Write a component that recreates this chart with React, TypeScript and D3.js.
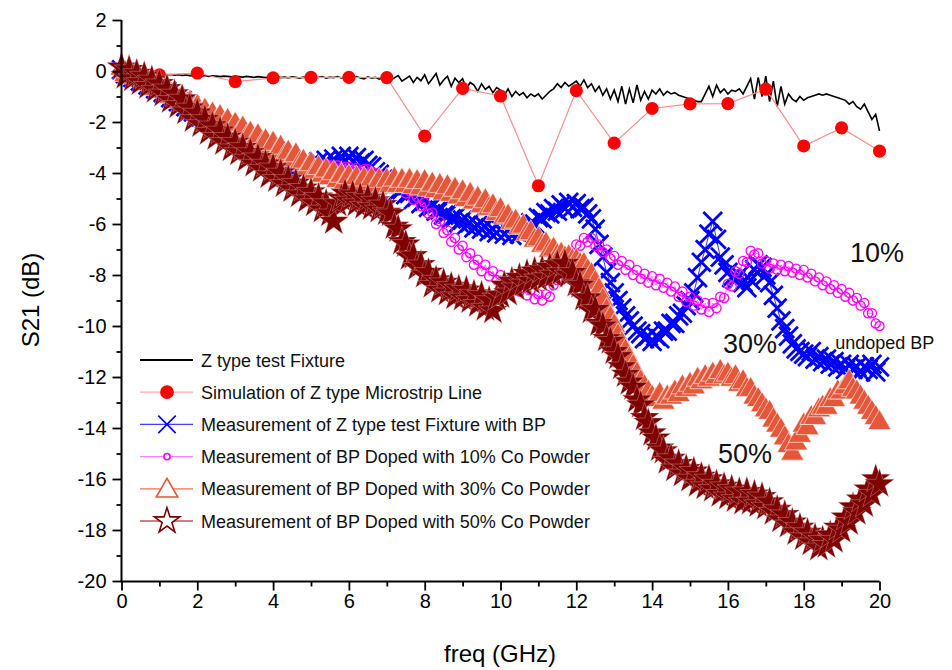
import React, { useEffect, useRef } from 'react';
import * as d3 from 'd3';

// frequency grid of the measured traces, GHz
const freq = d3.range(0, 201).map((i) => i / 10);
const simFreq = [1, 2, 3, 4, 5, 6, 7, 8, 9, 10, 11, 12, 13, 14, 15, 16, 17, 18, 19, 20];

// S21 (dB)
const fixture = [
  0.05, 0.02, -0.02, -0.05, -0.06, -0.08, -0.1, -0.1, -0.12, -0.12,
  -0.14, -0.13, -0.15, -0.14, -0.16, -0.15, -0.17, -0.16, -0.18, -0.17,
  -0.18, -0.2, -0.18, -0.21, -0.19, -0.2, -0.22, -0.2, -0.21, -0.23,
  -0.2, -0.22, -0.24, -0.21, -0.23, -0.25, -0.22, -0.24, -0.26, -0.23,
  -0.25, -0.22, -0.26, -0.24, -0.27, -0.23, -0.25, -0.28, -0.24, -0.26,
  -0.23, -0.27, -0.25, -0.22, -0.28, -0.24, -0.26, -0.22, -0.27, -0.25,
  -0.24, -0.29, -0.22, -0.27, -0.31, -0.23, -0.28, -0.25, -0.32, -0.26,
  -0.22, -0.35, -0.27, -0.18, -0.4, -0.3, -0.2, -0.45, -0.25, -0.38,
  -0.15, -0.5, -0.3, -0.1, -0.55, -0.35, -0.2, -0.6, -0.28, -0.45,
  -0.3, -0.7, -0.45, -0.55, -0.8, -0.5, -0.72, -0.6, -0.85, -0.65,
  -0.75, -0.95, -0.7, -1.0, -0.8, -0.95, -0.85, -1.05, -0.9, -1.0,
  -0.9, -1.1, -0.95, -0.8, -0.7, -0.5, -0.65, -0.45, -0.6, -0.5,
  -0.4, -0.6, -0.35, -0.65, -0.5, -0.8, -0.6, -0.95, -0.7, -1.1,
  -0.75, -1.2, -0.6, -1.3, -0.7, -1.25, -0.55, -1.15, -0.8, -1.1,
  -0.75, -0.9, -0.7, -0.95, -0.8, -0.9, -0.85, -0.95, -1.0, -1.05,
  -1.1, -1.15, -1.2, -1.2, -0.9, -0.6, -1.0, -0.55, -0.85, -0.7,
  -0.9, -0.75, -0.8, -0.7, -0.9, -0.6, -0.3, -1.1, -0.25, -1.0,
  -0.2, -1.2, -0.4, -1.4, -0.6, -1.3, -0.9, -1.1, -1.2, -1.0,
  -1.15, -1.05, -1.0, -0.95, -0.9, -0.95, -0.9, -0.95, -1.0, -1.05,
  -1.1, -1.15, -1.3, -1.2, -1.4, -1.5, -1.3, -1.6, -1.9, -1.7,
  -2.35,
];

const simulation = [
  -0.15, -0.08, -0.42, -0.27, -0.25, -0.25, -0.26, -2.55, -0.68, -0.98,
  -4.5, -0.77, -2.83, -1.47, -1.29, -1.28, -0.71, -2.94, -2.23, -3.14,
];

const undoped = [
  0.05, -0.1, -0.1, -0.25, -0.2, -0.4, -0.35, -0.55, -0.5, -0.7,
  -0.65, -0.85, -0.8, -1.05, -1.0, -1.2, -1.15, -1.4, -1.35, -1.6,
  -1.55, -1.8, -1.75, -2.0, -1.95, -2.2, -2.15, -2.4, -2.35, -2.6,
  -2.55, -2.8, -2.8, -3.0, -3.0, -3.2, -3.15, -3.35, -3.3, -3.5,
  -3.45, -3.6, -3.5, -3.7, -3.55, -3.75, -3.6, -3.8, -3.6, -3.8,
  -3.6, -3.8, -3.55, -3.75, -3.5, -3.7, -3.45, -3.6, -3.35, -3.55,
  -3.35, -3.55, -3.4, -3.6, -3.5, -3.7, -3.75, -3.95, -4.05, -4.25,
  -4.3, -4.5, -4.45, -4.7, -4.65, -4.85, -4.8, -5.05, -4.95, -5.2,
  -5.1, -5.35, -5.3, -5.5, -5.45, -5.65, -5.6, -5.8, -5.75, -5.95,
  -5.85, -6.05, -5.95, -6.15, -6.05, -6.2, -6.1, -6.3, -6.2, -6.35,
  -6.2, -6.4, -6.25, -6.45, -6.3, -6.4, -6.2, -6.2, -5.95, -6.0,
  -5.75, -5.8, -5.55, -5.6, -5.4, -5.5, -5.25, -5.4, -5.15, -5.35,
  -5.2, -5.4, -5.35, -5.6, -5.8, -6.2, -6.8, -7.3, -7.9, -8.3,
  -8.7, -9.0, -9.3, -9.6, -9.8, -10.0, -10.2, -10.3, -10.5, -10.4,
  -10.6, -10.4, -10.5, -10.2, -10.2, -9.9, -9.9, -9.6, -9.5, -9.2,
  -9.0, -8.7, -8.1, -7.5, -7.0, -6.4, -5.9, -6.6, -7.3, -7.6,
  -7.9, -8.1, -8.2, -8.0, -8.3, -8.5, -8.2, -7.8, -7.6, -7.7,
  -8.0, -8.3, -8.8, -9.3, -9.8, -10.1, -10.4, -10.7, -10.9, -11.0,
  -11.1, -11.2, -11.0, -11.3, -11.2, -11.4, -11.3, -11.5, -11.4, -11.6,
  -11.5, -11.7, -11.5, -11.7, -11.6, -11.8, -11.6, -11.7, -11.5, -11.8,
  -11.6,
];

const doped10 = [
  0.0, -0.1, -0.15, -0.2, -0.3, -0.35, -0.45, -0.5, -0.6, -0.7,
  -0.75, -0.85, -0.95, -1.05, -1.2, -1.3, -1.4, -1.5, -1.65, -1.75,
  -1.85, -1.95, -2.05, -2.15, -2.25, -2.35, -2.45, -2.5, -2.6, -2.7,
  -2.75, -2.85, -2.9, -3.0, -3.05, -3.1, -3.15, -3.2, -3.3, -3.3,
  -3.35, -3.4, -3.45, -3.45, -3.5, -3.5, -3.55, -3.55, -3.6, -3.6,
  -3.6, -3.65, -3.6, -3.7, -3.65, -3.7, -3.75, -3.7, -3.8, -3.75,
  -3.75, -3.85, -3.8, -3.9, -3.85, -3.85, -3.95, -4.0, -4.05, -4.15,
  -4.1, -4.4, -4.3, -4.6, -4.5, -4.8, -4.7, -5.05, -4.95, -5.3,
  -5.15, -5.6, -5.55, -6.0, -5.9, -6.35, -6.25, -6.7, -6.55, -7.0,
  -6.85, -7.3, -7.15, -7.6, -7.4, -7.85, -7.6, -8.05, -7.85, -8.2,
  -8.0, -8.35, -8.2, -8.5, -8.35, -8.65, -8.5, -8.8, -8.6, -8.95,
  -8.75, -9.0, -8.75, -8.85, -8.4, -8.2, -7.7, -7.6, -7.1, -7.15,
  -6.8, -6.85, -6.55, -6.7, -6.55, -6.85, -6.8, -7.1, -7.0, -7.35,
  -7.25, -7.6, -7.45, -7.8, -7.6, -8.0, -7.8, -8.15, -7.95, -8.3,
  -8.05, -8.4, -8.15, -8.5, -8.3, -8.65, -8.45, -8.85, -8.65, -9.05,
  -8.85, -9.2, -9.0, -9.35, -9.1, -9.45, -9.1, -9.3, -8.85, -8.9,
  -8.35, -8.45, -7.85, -7.95, -7.45, -7.5, -7.05, -7.2, -7.15, -7.55,
  -7.45, -7.75, -7.55, -7.8, -7.6, -7.85, -7.65, -7.9, -7.75, -8.0,
  -7.8, -8.1, -7.95, -8.25, -8.1, -8.4, -8.25, -8.55, -8.4, -8.7,
  -8.55, -8.85, -8.7, -9.0, -8.9, -9.2, -9.1, -9.5, -9.5, -9.9,
  -10.0,
];

const doped30 = [
  0.1, -0.15, 0.0, -0.25, -0.1, -0.35, -0.2, -0.5, -0.4, -0.7,
  -0.55, -0.8, -0.7, -1.0, -0.9, -1.2, -1.05, -1.35, -1.25, -1.6,
  -1.4, -1.7, -1.55, -1.9, -1.7, -2.0, -1.8, -2.15, -1.95, -2.35,
  -2.1, -2.45, -2.25, -2.6, -2.45, -2.75, -2.55, -2.9, -2.75, -3.1,
  -2.85, -3.2, -3.0, -3.35, -3.2, -3.5, -3.3, -3.65, -3.55, -3.85,
  -3.65, -3.95, -3.8, -4.1, -3.9, -4.2, -4.0, -4.3, -4.1, -4.35,
  -4.15, -4.4, -4.2, -4.45, -4.25, -4.5, -4.25, -4.5, -4.3, -4.55,
  -4.3, -4.5, -4.25, -4.5, -4.3, -4.5, -4.3, -4.55, -4.35, -4.6,
  -4.35, -4.65, -4.45, -4.7, -4.5, -4.8, -4.55, -4.85, -4.65, -4.95,
  -4.75, -5.05, -4.85, -5.15, -5.0, -5.3, -5.1, -5.4, -5.3, -5.6,
  -5.45, -5.75, -5.7, -5.95, -5.9, -6.15, -6.1, -6.4, -6.35, -6.65,
  -6.6, -6.85, -6.8, -7.05, -7.0, -7.25, -7.2, -7.35, -7.3, -7.45,
  -7.45, -7.6, -7.6, -7.85, -8.0, -8.3, -8.6, -9.0, -9.4, -9.7,
  -10.0, -10.4, -10.7, -11.0, -11.3, -11.6, -11.9, -12.2, -12.4, -12.6,
  -12.8, -12.9, -12.7, -13.0, -12.8, -12.8, -12.6, -12.7, -12.4, -12.5,
  -12.3, -12.4, -12.1, -12.2, -12.0, -12.1, -11.9, -12.0, -11.8, -12.0,
  -11.9, -12.1, -12.0, -12.3, -12.2, -12.5, -12.5, -12.8, -12.9, -13.1,
  -13.3, -13.4, -13.7, -13.9, -14.1, -14.4, -14.7, -15.0, -14.6, -14.3,
  -13.9, -14.0, -13.6, -13.6, -13.3, -13.2, -13.2, -12.9, -12.9, -12.6,
  -12.6, -12.4, -12.2, -12.5, -12.6, -12.8, -13.0, -13.2, -13.4, -13.6,
  -13.8,
];

const doped50 = [
  0.15, -0.2, 0.05, -0.3, -0.1, -0.45, -0.2, -0.6, -0.35, -0.75,
  -0.5, -0.9, -0.7, -1.15, -0.9, -1.35, -1.1, -1.6, -1.45, -1.9,
  -1.65, -2.1, -1.9, -2.4, -2.15, -2.6, -2.35, -2.8, -2.6, -3.05,
  -2.8, -3.2, -3.0, -3.45, -3.2, -3.65, -3.4, -3.85, -3.65, -4.1,
  -3.8, -4.25, -4.0, -4.45, -4.25, -4.65, -4.4, -4.85, -4.6, -5.05,
  -4.75, -5.2, -4.95, -5.45, -5.2, -5.6, -5.9, -5.2, -5.0, -4.8,
  -5.1, -4.85, -5.2, -4.95, -5.3, -5.0, -5.35, -5.1, -5.45, -5.25,
  -5.55, -5.6, -6.1, -6.2, -6.7, -6.8, -7.3, -7.25, -7.7, -7.6,
  -8.0, -7.9, -8.4, -8.2, -8.6, -8.3, -8.7, -8.45, -8.85, -8.55,
  -8.9, -8.6, -9.0, -8.75, -9.15, -8.8, -9.3, -9.0, -9.4, -8.9,
  -8.8, -8.4, -8.7, -8.25, -8.5, -8.1, -8.35, -7.95, -8.25, -7.85,
  -8.15, -7.8, -8.1, -7.7, -8.0, -7.6, -7.9, -7.55, -8.0, -7.9,
  -8.35, -8.4, -8.9, -8.9, -9.4, -9.35, -9.9, -10.0, -10.5, -10.6,
  -11.0, -11.2, -11.6, -11.9, -12.2, -12.4, -12.9, -13.1, -13.6, -13.8,
  -14.2, -14.4, -14.8, -14.9, -15.3, -15.2, -15.6, -15.4, -15.8, -15.6,
  -16.0, -15.7, -16.2, -15.9, -16.3, -16.0, -16.4, -16.2, -16.6, -16.3,
  -16.7, -16.4, -16.8, -16.5, -16.9, -16.5, -16.9, -16.6, -17.0, -16.7,
  -17.1, -16.9, -17.3, -17.2, -17.6, -17.4, -17.8, -17.7, -18.1, -17.9,
  -18.3, -18.1, -18.5, -18.3, -18.7, -18.4, -18.6, -18.2, -18.4, -17.9,
  -18.0, -17.5, -17.7, -17.1, -17.3, -16.8, -17.0, -16.4, -16.6, -16.0,
  -16.2,
];

const legendLabels = [
  'Z type test Fixture',
  'Simulation of Z type Microstrip Line',
  'Measurement of Z type test Fixture with BP',
  'Measurement of BP Doped with 10% Co Powder',
  'Measurement of BP Doped with 30% Co Powder',
  'Measurement of BP Doped with 50% Co Powder',
];

const notes = [
  { text: '10%', x: 19.22, y: -7.5, size: 27 },
  { text: '30%', x: 15.87, y: -11.05, size: 27 },
  { text: '50%', x: 15.74, y: -15.37, size: 27 },
  { text: 'undoped BP', x: 18.83, y: -10.9, size: 18 },
];

const yMajor = d3.range(-20, 3, 2);
const yMinor = d3.range(-19, 2, 2);
const xMajor = d3.range(0, 21, 2);
const xMinor = d3.range(1, 20, 2);

const FONT = '"Liberation Sans", Arial, sans-serif';

const App = () => {
  const svgRef = useRef(null);

  useEffect(() => {
    const svg = d3.select(svgRef.current);
    svg.selectAll('*').remove();

    const x = d3.scaleLinear().domain([0, 20]).range([121.5, 879.5]);
    const y = d3.scaleLinear().domain([-20, 2]).range([581, 20]);

    // dense measured traces: solid marker bodies with a thin pale edge give the hatched band look
    const series = [
      { xs: freq, ys: fixture, color: '#000000', line: '#000000', lw: 1.6, symbol: null },
      { xs: simFreq, ys: simulation, color: '#FF0000', line: '#FF8A8A', lw: 1.2, symbol: d3.symbolCircle, size: 135, fill: '#FF0000', edge: 'none', sw: 0 },
      { xs: freq, ys: undoped, color: '#0000FF', line: '#3333FF', lw: 1, symbol: d3.symbolTimes || d3.symbolCross, size: 230, fill: 'none', edge: '#0000FF', sw: 2.8 },
      { xs: freq, ys: doped10, color: '#FF00FF', line: '#FF66FF', lw: 1, symbol: d3.symbolCircle, size: 66, fill: 'none', edge: '#FF00FF', sw: 1.3 },
      { xs: freq, ys: doped30, color: '#E4573A', line: '#E4573A', lw: 1, symbol: d3.symbolTriangle, size: 230, fill: '#E4573A', edge: '#FFFFFF', sw: 0.6 },
      { xs: freq, ys: doped50, color: '#7F0000', line: '#7F0000', lw: 1, symbol: d3.symbolStar, size: 270, fill: '#7F0000', edge: '#E8C8C8', sw: 0.35 },
    ];

    series.forEach((s) => {
      const g = svg.append('g');
      const pts = s.ys.map((v, i) => [x(s.xs[i]), y(v)]);
      g.append('path')
        .attr('d', d3.line()(pts))
        .attr('fill', 'none')
        .attr('stroke', s.line)
        .attr('stroke-width', s.lw);
      if (s.symbol) {
        const sym = d3.symbol().type(s.symbol).size(s.size);
        g.selectAll('path.m')
          .data(pts)
          .join('path')
          .attr('class', 'm')
          .attr('transform', (d) => `translate(${d[0]},${d[1]})`)
          .attr('d', sym)
          .attr('fill', s.fill)
          .attr('stroke', s.edge)
          .attr('stroke-width', s.sw);
      }
    });

    // axes
    const yAxis = svg.append('g').attr('transform', 'translate(121.5,0)')
      .call(d3.axisLeft(y).tickValues(yMajor).tickSize(9).tickPadding(6).tickFormat((d) => String(d)));
    svg.append('g').attr('transform', 'translate(121.5,0)')
      .call(d3.axisLeft(y).tickValues(yMinor).tickSize(5).tickFormat(() => ''))
      .select('.domain').remove();
    const xAxis = svg.append('g').attr('transform', 'translate(0,581.5)')
      .call(d3.axisBottom(x).tickValues(xMajor).tickSize(9).tickPadding(3).tickFormat((d) => String(d)));
    svg.append('g').attr('transform', 'translate(0,581.5)')
      .call(d3.axisBottom(x).tickValues(xMinor).tickSize(5).tickFormat(() => ''))
      .select('.domain').remove();

    svg.selectAll('.domain').attr('stroke-width', 2);
    svg.selectAll('.tick line').attr('stroke-width', 1.8);
    [yAxis, xAxis].forEach((a) => a.selectAll('text').attr('font-size', 20).attr('font-family', FONT).attr('fill', '#000'));
    // open frame: no end caps on the axis lines
    yAxis.select('.domain').attr('d', `M0,${y(2)}V${y(-20) + 1}`);
    xAxis.select('.domain').attr('d', `M${x(0) - 1},0H${x(20)}`);

    svg.append('text')
      .attr('transform', `translate(39,300) rotate(-90)`)
      .attr('text-anchor', 'middle')
      .attr('font-family', FONT)
      .attr('font-size', 24)
      .text('S21 (dB)');
    svg.append('text')
      .attr('x', 500)
      .attr('y', 662)
      .attr('text-anchor', 'middle')
      .attr('font-family', FONT)
      .attr('font-size', 24)
      .text('freq (GHz)');

    // legend: hollow symbols on light lines
    const lg = svg.append('g');
    legendLabels.forEach((label, i) => {
      const s = series[i];
      const cy = 360 + i * 32.2;
      lg.append('line')
        .attr('x1', 140).attr('x2', 193).attr('y1', cy).attr('y2', cy)
        .attr('stroke', i === 0 ? '#000' : d3.color(s.line).brighter(0.6).formatHex())
        .attr('stroke-width', i === 0 ? 2 : 1.2);
      if (s.symbol) {
        lg.append('path')
          .attr('transform', `translate(167,${cy + (i === 4 ? 2 : 0)})`)
          .attr('d', d3.symbol().type(s.symbol).size(i === 3 ? 30 : i === 1 ? 150 : 200)())
          .attr('fill', i === 1 ? s.fill : '#fff')
          .attr('stroke', i === 1 ? 'none' : s.color)
          .attr('stroke-width', 1.6);
      }
      lg.append('text')
        .attr('x', 201)
        .attr('y', cy + 6.5)
        .attr('font-family', FONT)
        .attr('font-size', 18)
        .attr('fill', '#111')
        .text(label);
    });

    svg.selectAll('text.note')
      .data(notes)
      .join('text')
      .attr('class', 'note')
      .attr('x', (d) => x(d.x))
      .attr('y', (d) => y(d.y))
      .attr('font-family', FONT)
      .attr('font-size', (d) => d.size)
      .attr('fill', '#111')
      .text((d) => d.text);
  }, []);

  return (
    <svg
      ref={svgRef}
      width={952}
      height={670}
      style={{ position: 'absolute', left: 0, top: 0, background: '#fff' }}
    />
  );
};

export default App;
